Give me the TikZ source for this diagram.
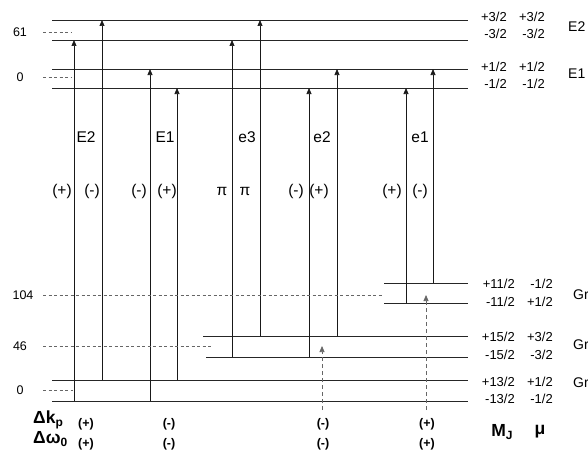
\documentclass[tikz,border=0pt]{standalone}
\usepackage{fontspec}
\setmainfont{Liberation Sans}
\usetikzlibrary{arrows.meta}
\tikzset{
  lvl/.style={draw=black!85,line width=0.7pt},
  trans/.style={draw=black!90,line width=0.7pt,-{Triangle[length=6pt,width=5pt]}},
  pump/.style={trans,draw=black!60,dash pattern=on 4pt off 3pt},
  guide/.style={draw=black!60,line width=0.6pt,dash pattern=on 3pt off 2.5pt},
  lbl/.style={inner sep=0pt,font=\fontsize{15.5}{17}\selectfont},
  qn/.style={inner sep=0pt,anchor=east,font=\fontsize{13}{15}\selectfont},
  termlab/.style={inner sep=0pt,anchor=west,font=\fontsize{14}{16}\selectfont},
  axlab/.style={inner sep=0pt,font=\fontsize{12.5}{14}\selectfont},
  signlab/.style={inner sep=0pt,font=\bfseries\fontsize{12.5}{14}\selectfont},
  big/.style={inner sep=0pt,font=\bfseries\fontsize{17.5}{19}\selectfont}
}
\begin{document}
\begin{tikzpicture}[x=1pt,y=-1pt]
  \useasboundingbox (0,0) rectangle (588,452);
  % levels
  \foreach \n/\xl/\yy in {E2p/52/20,E2m/52/40,E1p/52/69,E1m/52/88,
      Gap/384/283,Gam/384/303,Gbp/203/336,Gbm/206/357,Gcp/52/380,Gcm/52/401}
    \draw[lvl] (\xl,\yy) coordinate (\n) -- (468,\yy);
  % transitions
  \foreach \xx/\lo/\hi in {74/Gcm/E2m,102/Gcp/E2p,150/Gcm/E1p,177/Gcp/E1m,
      232/Gbm/E2m,260/Gbp/E2p,309/Gbm/E1m,337/Gbp/E1p,406/Gam/E1m,433/Gap/E1p}
    \draw[trans] (\xx,0 |- \lo) -- (\xx,0 |- \hi);
  % pump arrows
  \coordinate (pa) at (322,410); \coordinate (pa') at (322,346);
  \coordinate (pb) at (426,410); \coordinate (pb') at (426,295);
  \draw[pump] (pa) -- (pa');
  \draw[pump] (pb) -- (pb');
  % energy scale
  \node[axlab] (s61) at (20,32) {61};
  \node[axlab] (s0u) at (20,77) {0};
  \node[axlab] (s104) at (23,295) {104};
  \node[axlab] (s46) at (20,346) {46};
  \node[axlab] (s0l) at (20,390) {0};
  \draw[guide] (43,32) -- (72,32);
  \draw[guide] (43,77) -- (72,77);
  \draw[guide] (43,295) -- (383,295);
  \draw[guide] (43,346) -- (213,346);
  \draw[guide] (43,390) -- (73,390);
  % line labels
  \foreach \xx/\t in {86/E2,165/E1,247/e3,322/e2,420/e1}
    \node[lbl] at (\xx,137) {\t};
  \foreach \xx/\t in {62/(+),92/(-),139/(-),167/(+),222/π,245/π,296/(-),319/(+),392/(+),420/(-)}
    \node[lbl] at (\xx,191) {\t};
  % quantum numbers
  \foreach \yy/\a/\b in {17/+3\slash 2/+3\slash 2,34/-3\slash 2/-3\slash 2,
      67/+1\slash 2/+1\slash 2,84/-1\slash 2/-1\slash 2}
    {\node[qn] at (507,\yy) {\a}; \node[qn] at (545,\yy) {\b};}
  \foreach \yy/\a/\b in {284/+11\slash 2/-1\slash 2,302/-11\slash 2/+1\slash 2,
      337/+15\slash 2/+3\slash 2,355/-15\slash 2/-3\slash 2,
      382/+13\slash 2/+1\slash 2,399/-13\slash 2/-1\slash 2}
    {\node[qn] at (515,\yy) {\a}; \node[qn] at (553,\yy) {\b};}
  \node[termlab] (tE2) at (568,27) {E2};
  \node[termlab] (tE1) at (568,74) {E1};
  \node[termlab] (tGa) at (573,295) {Gr};
  \node[termlab] (tGb) at (573,345) {Gr};
  \node[termlab] (tGc) at (573,383) {Gr};
  % bottom rows
  \node[big,anchor=west] (dk) at (33,420) {Δk\raisebox{-0.4ex}{\fontsize{12}{12}\selectfont p}};
  \node[big,anchor=west] (dw) at (33,439) {Δω\raisebox{-0.4ex}{\fontsize{12}{12}\selectfont 0}};
  \foreach \xx/\t in {86/(+),169/(-),323/(-),427/(+)}
    {\node[signlab] at (\xx,424) {\t}; \node[signlab] at (\xx,444) {\t};}
  \node[big] (mj) at (502,432) {M\raisebox{-0.4ex}{\fontsize{12}{12}\selectfont J}};
  \node[big] (mu) at (540,432) {μ};
\end{tikzpicture}
\end{document}
